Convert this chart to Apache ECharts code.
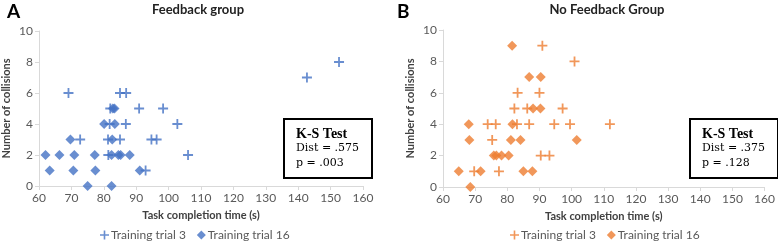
<!DOCTYPE html>
<html>
<head>
<meta charset="utf-8">
<script src="https://cdn.jsdelivr.net/npm/echarts@6/dist/echarts.min.js"></script>
<style>
  html, body { margin: 0; padding: 0; background: #fff; }
  #chart { width: 778px; height: 241px; }
</style>
</head>
<body>
<div id="chart"></div>
<script>
// Task completion time (s) and number of collisions
const feedbackTrial3X = [69.1, 85.0, 86.9, 82.0, 90.9, 98.3, 81.8, 86.8, 102.7, 72.7, 81.3, 85.0, 94.7, 96.3, 81.4, 106.0, 92.9, 142.7, 152.6];
const feedbackTrial3Y = [6, 6, 6, 5, 5, 5, 4, 4, 4, 3, 3, 3, 3, 3, 2, 2, 1, 7, 8];
const feedbackTrial16X = [82.8, 83.3, 80.1, 83.4, 69.7, 82.6, 62.0, 66.3, 70.9, 77.2, 82.4, 84.5, 85.2, 88.0, 63.3, 70.6, 77.4, 91.1, 75.0, 82.4];
const feedbackTrial16Y = [5, 5, 4, 4, 3, 3, 2, 2, 2, 2, 2, 2, 2, 2, 1, 1, 1, 1, 0, 0];

const noFeedbackTrial3X = [90.9, 100.9, 83.2, 90.0, 82.2, 86.2, 97.2, 73.9, 76.4, 83.0, 86.8, 94.6, 99.5, 111.9, 75.3, 90.4, 93.1, 69.7, 77.4];
const noFeedbackTrial3Y = [9, 8, 6, 6, 5, 5, 5, 4, 4, 4, 4, 4, 4, 4, 3, 2, 2, 1, 1];
const noFeedbackTrial16X = [81.5, 86.8, 90.4, 88.0, 90.3, 68.0, 81.6, 68.2, 81.1, 84.1, 101.6, 75.8, 76.6, 78.2, 80.4, 64.9, 71.7, 85.0, 87.8, 68.5];
const noFeedbackTrial16Y = [9, 7, 7, 5, 5, 4, 4, 3, 3, 3, 3, 2, 2, 2, 2, 1, 1, 1, 1, 0];

const seriesNames = ['Training trial 3', 'Training trial 16'];
const panelTitles = ['Feedback group', 'No Feedback Group'];
const ksStats = [['Dist = .575', 'p = .003'], ['Dist = .375', 'p = .128']];

const xMin = 60, xMax = 160, xStep = 10;
const yMin = 0, yMax = 10, yStep = 2;

const BLUE = '#4472C4';
const ORANGE = '#ED7D31';
const FONT = 'Lato';
const SERIF = 'DejaVu Serif';
const PLUS = 'path://M4.1,0h1.8v4.1h4.1v1.8h-4.1v4.1h-1.8v-4.1h-4.1v-1.8h4.1z';

const zip = (xs, ys) => xs.map((x, i) => [x, ys[i]]);

const chart = echarts.init(document.getElementById('chart'));

const grids = [
  { left: 39, top: 31, width: 324, height: 155 },
  { left: 443, top: 30, width: 322, height: 157 }
];

const makeX = (i) => ({
  gridIndex: i,
  type: 'value',
  min: xMin, max: xMax, interval: xStep,
  name: 'Task completion time (s)',
  nameLocation: 'middle',
  nameGap: 24,
  nameTextStyle: { fontFamily: FONT, fontWeight: 'bold', fontSize: 11, color: '#404040' },
  axisLine: { lineStyle: { color: '#d9d9d9' } },
  axisTick: { show: true, length: 4, lineStyle: { color: '#d9d9d9' } },
  axisLabel: { fontFamily: FONT, fontSize: 12, color: '#595959', margin: 6 },
  splitLine: { show: false }
});

const makeY = (i) => ({
  gridIndex: i,
  type: 'value',
  min: yMin, max: yMax, interval: yStep,
  name: 'Number of collisions',
  nameLocation: 'middle',
  nameGap: 27,
  nameTextStyle: { fontFamily: FONT, fontWeight: 'bold', fontSize: 11, color: '#404040' },
  axisLine: { show: true, lineStyle: { color: '#d9d9d9' } },
  axisTick: { show: true, length: 4, lineStyle: { color: '#d9d9d9' } },
  axisLabel: { fontFamily: FONT, fontSize: 12, color: '#595959', margin: 6 },
  splitLine: { show: false }
});

const crossSeries = (name, i, data, color) => ({
  name, type: 'scatter', xAxisIndex: i, yAxisIndex: i,
  symbol: PLUS, symbolSize: 10,
  itemStyle: { color },
  data
});
const diamondSeries = (name, i, data, color) => ({
  name, type: 'scatter', xAxisIndex: i, yAxisIndex: i,
  symbol: 'diamond', symbolSize: 10,
  itemStyle: { color },
  data
});

const ksBox = (x, y, lines) => ({
  type: 'group', left: x, top: y,
  children: [
    { type: 'rect', shape: { x: 0, y: 0, width: 88, height: 59 },
      style: { fill: '#fff', stroke: '#000', lineWidth: 2 } },
    { type: 'text', x: 12, y: 8,
      style: { text: 'K-S Test', fontFamily: 'Liberation Serif', fontWeight: 'bold', fontSize: 14, fill: '#000' } },
    { type: 'text', x: 12, y: 24,
      style: { text: lines[0], fontFamily: SERIF, fontSize: 11, fill: '#000' } },
    { type: 'text', x: 12, y: 39,
      style: { text: lines[1], fontFamily: SERIF, fontSize: 11, fill: '#000' } }
  ]
});

const legendFor = (i, left) => ({
  left, top: 229, padding: 0,
  itemWidth: 9, itemHeight: 9, itemGap: 11,
  data: seriesNames.map(n => (i === 0 ? n : 'B ' + n)),
  formatter: (n) => n.replace(/^B /, ''),
  textStyle: { fontFamily: FONT, fontSize: 12, color: '#595959', padding: [0, 0, 0, -3] }
});

chart.setOption({
  animation: false,
  title: [
    { text: 'A', left: 2, top: -3, textStyle: { fontFamily: FONT, fontWeight: 'bold', fontSize: 19, color: '#000' } },
    { text: panelTitles[0], left: 193, top: -2, textAlign: 'center', textStyle: { fontFamily: FONT, fontWeight: 'bold', fontSize: 13, color: '#222' } },
    { text: 'B', left: 392, top: -3, textStyle: { fontFamily: FONT, fontWeight: 'bold', fontSize: 19, color: '#000' } },
    { text: panelTitles[1], left: 602, top: -2, textAlign: 'center', textStyle: { fontFamily: FONT, fontWeight: 'bold', fontSize: 13, color: '#222' } }
  ],
  grid: grids,
  xAxis: [makeX(0), makeX(1)],
  yAxis: [makeY(0), makeY(1)],
  legend: [legendFor(0, 100), legendFor(1, 510)],
  series: [
    crossSeries(seriesNames[0], 0, zip(feedbackTrial3X, feedbackTrial3Y), BLUE),
    diamondSeries(seriesNames[1], 0, zip(feedbackTrial16X, feedbackTrial16Y), BLUE),
    crossSeries('B ' + seriesNames[0], 1, zip(noFeedbackTrial3X, noFeedbackTrial3Y), ORANGE),
    diamondSeries('B ' + seriesNames[1], 1, zip(noFeedbackTrial16X, noFeedbackTrial16Y), ORANGE)
  ],
  graphic: [
    ksBox(283, 118, ksStats[0]),
    ksBox(689, 118, ksStats[1])
  ]
});
</script>
</body>
</html>
